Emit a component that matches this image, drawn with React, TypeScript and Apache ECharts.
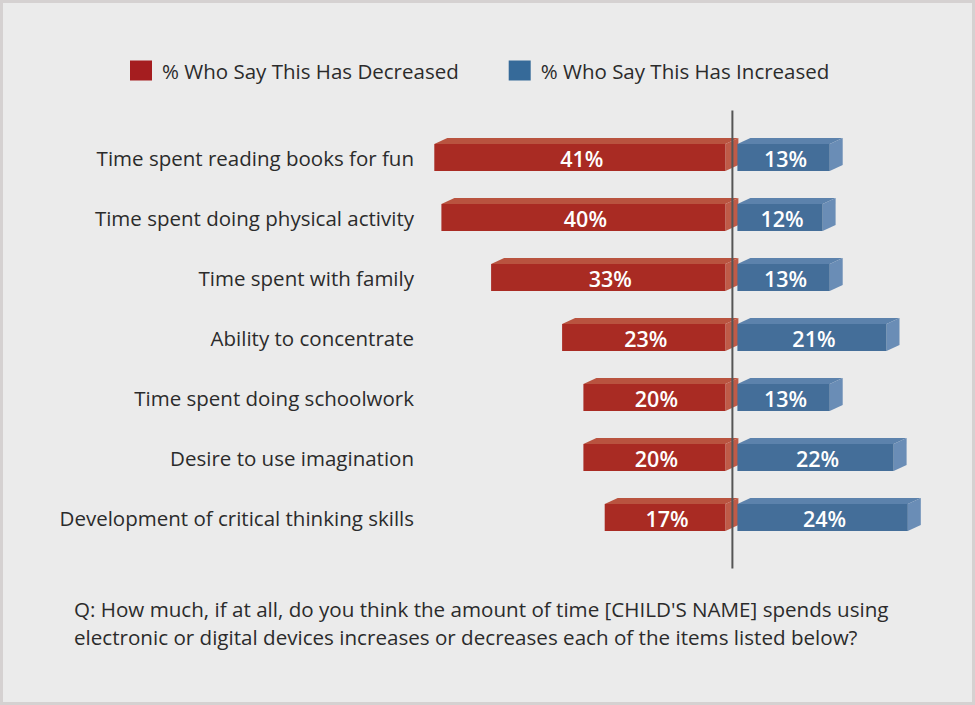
import React, { useEffect, useRef } from "react";
import * as echarts from "echarts";

const categories = [
  "Time spent reading books for fun",
  "Time spent doing physical activity",
  "Time spent with family",
  "Ability to concentrate",
  "Time spent doing schoolwork",
  "Desire to use imagination",
  "Development of critical thinking skills",
];
const decreased = [41, 40, 33, 23, 20, 20, 17];
const increased = [13, 12, 13, 21, 13, 22, 24];
const seriesNames = ["% Who Say This Has Decreased", "% Who Say This Has Increased"];
const questionLines = [
  "Q: How much, if at all, do you think the amount of time [CHILD'S NAME] spends using",
  "electronic or digital devices increases or decreases each of the items listed below?",
];

const RED = { front: "#a92b23", top: "#b9533f", side: "#bf5b48", legend: "#a51d1f" };
const BLUE = { front: "#446e99", top: "#5c82ac", side: "#6a8db6", legend: "#366a99" };

function makeBar(isRed: boolean) {
  const col = isRed ? RED : BLUE;
  return (params: any, api: any) => {
    const v = api.value(0);
    const c = api.value(1);
    const zero = api.coord([0, c]);
    const w = api.size([v, 0])[0];
    const h = 27;
    const dx = 13;
    const dy = 6;
    const top = zero[1] - h / 2;
    let x0: number, x1: number;
    if (isRed) {
      x1 = zero[0] - 7;
      x0 = x1 - w;
    } else {
      x0 = zero[0] + 5;
      x1 = x0 + w;
    }
    return {
      type: "group",
      children: [
        {
          type: "polygon",
          shape: { points: [[x0, top], [x1, top], [x1 + dx, top - dy], [x0 + dx, top - dy]] },
          style: { fill: col.top },
        },
        {
          type: "polygon",
          shape: { points: [[x1, top], [x1 + dx, top - dy], [x1 + dx, top - dy + h], [x1, top + h]] },
          style: { fill: col.side },
        },
        {
          type: "rect",
          shape: { x: x0, y: top, width: x1 - x0, height: h },
          style: { fill: col.front },
        },
        {
          type: "text",
          x: (x0 + x1) / 2 + 2,
          y: zero[1] + 0.5,
          style: {
            text: v + "%",
            fill: "#ffffff",
            font: "600 21.5px 'Open Sans'",
            align: "center",
            verticalAlign: "middle",
          },
        },
      ],
    };
  };
}

export default function App() {
  const ref = useRef<HTMLDivElement>(null);
  useEffect(() => {
    if (!ref.current) return;
    const chart = echarts.init(ref.current, undefined, { renderer: "svg" });
    const last = categories.length - 1;
    chart.setOption({
      animation: false,
      backgroundColor: "#ebebeb",
      grid: { left: 420, right: 29.6, top: 127.5, bottom: 157.5 },
      xAxis: { type: "value", min: -44, max: 30, show: false },
      yAxis: {
        type: "category",
        data: categories,
        inverse: true,
        axisLine: { show: false },
        axisTick: { show: false },
        splitLine: { show: false },
        axisLabel: {
          margin: 6,
          color: "#2b2b2b",
          fontSize: 20.5,
          fontFamily: "Open Sans",
          padding: [0, 0, 2, 0],
        },
      },
      legend: {
        left: 130,
        top: 60,
        padding: 0,
        itemWidth: 22,
        itemHeight: 20,
        itemGap: 50,
        icon: "rect",
        textStyle: { fontSize: 20.5, fontFamily: "Open Sans", color: "#2b2b2b", padding: [0, 0, 0, 5] },
        data: [
          { name: seriesNames[0], itemStyle: { color: RED.legend } },
          { name: seriesNames[1], itemStyle: { color: BLUE.legend } },
        ],
      },
      graphic: [
        {
          type: "rect",
          shape: { x: 1.5, y: 1.5, width: 972, height: 702 },
          style: { fill: "none", stroke: "#d5d1d1", lineWidth: 3 },
          silent: true,
        },
        {
          type: "text",
          left: 74,
          top: 595,
          style: {
            text: questionLines.join("\n"),
            font: "20.6px 'Open Sans'",
            lineHeight: 28,
            fill: "#2b2b2b",
          },
        },
      ],
      series: [
        {
          name: seriesNames[0],
          type: "custom",
          itemStyle: { color: RED.legend },
          encode: { x: 0, y: 1 },
          data: decreased.map((v, i) => [v, i]),
          renderItem: makeBar(true),
          z: 2,
        },
        {
          name: seriesNames[1],
          type: "custom",
          itemStyle: { color: BLUE.legend },
          encode: { x: 0, y: 1 },
          data: increased.map((v, i) => [v, i]),
          renderItem: makeBar(false),
          z: 2,
        },
        {
          name: "axis",
          type: "custom",
          encode: { x: 0, y: 1 },
          data: [[0, 0]],
          z: 5,
          silent: true,
          renderItem: (params: any, api: any) => {
            const a = api.coord([0, 0]);
            const b = api.coord([0, last]);
            const band = api.size([0, 1])[1];
            return {
              type: "line",
              shape: { x1: a[0], y1: a[1] - band / 2 - 17, x2: b[0], y2: b[1] + band / 2 + 21 },
              style: { stroke: "#555555", lineWidth: 2 },
            };
          },
        },
      ],
    });
    return () => chart.dispose();
  }, []);
  return (
    <div
      ref={ref}
      style={{ position: "fixed", left: 0, top: 0, width: 975, height: 705 }}
    />
  );
}
